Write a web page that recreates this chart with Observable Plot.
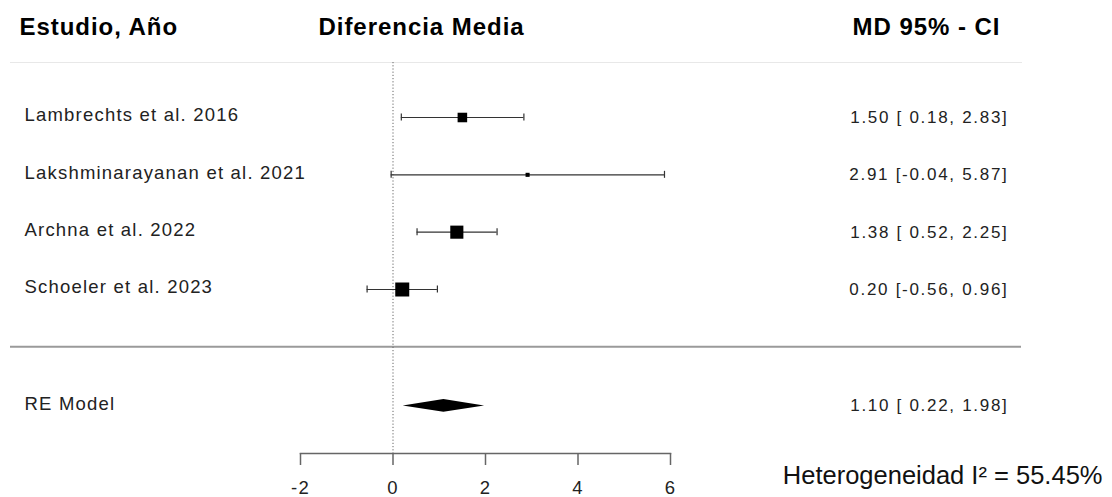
<!DOCTYPE html>
<html><head><meta charset="utf-8">
<script src="https://cdn.jsdelivr.net/npm/d3@7"></script>
<script src="https://cdn.jsdelivr.net/npm/@observablehq/plot@0.6"></script>
<style>
html,body{margin:0;padding:0;background:#fff;}
#chart svg text{letter-spacing:0.065em;}
</style></head><body><div id="chart"></div>
<script>
// ---- data ----
const studies = ["Lambrechts et al. 2016", "Lakshminarayanan et al. 2021", "Archna et al. 2022", "Schoeler et al. 2023"];
const md = [1.50, 2.91, 1.38, 0.20];
const ciLower = [0.18, -0.04, 0.52, -0.56];
const ciUpper = [2.83, 5.87, 2.25, 0.96];
const weights = [23.4, 7.5, 33.7, 36.3]; // estimated study weights (%)
const reLabel = "RE Model";
const reValues = [1.10, 0.22, 1.98]; // estimate, lower, upper
const i2 = 55.45;
const xTicks = [-2, 0, 2, 4, 6];
const headers = ["Estudio, Año", "Diferencia Media", "MD 95% - CI"];

// ---- derived tables ----
const rows = studies.map((_, i) => studies.length - i);
const table = studies.map((s, i) => ({study: s, md: md[i], lower: ciLower[i], upper: ciUpper[i], weight: weights[i], row: rows[i]}));
const reRow = -1.03;
const re = {label: reLabel, md: reValues[0], lower: reValues[1], upper: reValues[2], row: reRow};
const fmtLower = v => (v < 0 ? "" : " ") + v.toFixed(2);
const ciText = d => `${d.md.toFixed(2)} [${fmtLower(d.lower)}, ${d.upper.toFixed(2)}]`;
const dh = 0.11;
const diamond = [
  {x: re.lower, y1: reRow, y2: reRow},
  {x: re.md, y1: reRow - dh, y2: reRow + dh},
  {x: re.upper, y1: reRow, y2: reRow}
];

const font = "'Liberation Sans', Arial, Helvetica, sans-serif";

const chart = Plot.plot({
  width: 1112,
  height: 497,
  marginLeft: 300,
  marginRight: 442,
  marginTop: 62,
  marginBottom: 44,
  x: {domain: [-2, 6], label: null, axis: null},
  y: {domain: [1, 4], range: [289, 117], axis: null},
  r: {type: "linear", domain: d3.extent(weights), range: [2.3, 7.9]},
  style: {fontFamily: font, background: "#fff", color: "#222", overflow: "visible"},
  marks: [
    // top light line
    Plot.frame({anchor: "top", stroke: "#e8e8e8", strokeWidth: 1, insetLeft: -290, insetRight: -351}),
    // separator line
    Plot.ruleY([0], {stroke: "#9a9a9a", strokeWidth: 2, insetLeft: -290, insetRight: -351}),
    // zero reference line
    Plot.ruleX([0], {stroke: "#666", strokeWidth: 1, strokeDasharray: "1.2,2"}),
    // axis line
    Plot.frame({anchor: "bottom", stroke: "#666", strokeWidth: 1.5}),
    Plot.axisX(xTicks, {anchor: "bottom", tickSize: 12, tickPadding: 15, tickFormat: d => String(d), fontSize: 18.5, stroke: "#666", strokeWidth: 1.5, fill: "#222", label: null}),
    // CI lines and caps
    Plot.ruleY(table, {y: "row", x1: "lower", x2: "upper", stroke: "#333", strokeWidth: 1.2}),
    Plot.ruleX(table, {x: "lower", y1: "row", y2: "row", insetTop: -3.5, insetBottom: -3.5, stroke: "#333", strokeWidth: 1.2}),
    Plot.ruleX(table, {x: "upper", y1: "row", y2: "row", insetTop: -3.5, insetBottom: -3.5, stroke: "#333", strokeWidth: 1.2}),
    // weighted squares
    Plot.dot(table, {x: "md", y: "row", r: "weight", symbol: "square", fill: "#000"}),
    // RE diamond
    Plot.areaY(diamond, {x: "x", y1: "y1", y2: "y2", fill: "#000", curve: "linear"}),
    // study labels
    Plot.text(table, {y: "row", text: "study", frameAnchor: "left", dx: -276, dy: -2, textAnchor: "start", lineAnchor: "middle", fontSize: 18.5, fill: "#222"}),
    Plot.text([re], {y: "row", text: "label", frameAnchor: "left", dx: -276, dy: -2, textAnchor: "start", lineAnchor: "middle", fontSize: 18.5, fill: "#222"}),
    // CI annotations
    Plot.text(table, {y: "row", text: ciText, frameAnchor: "right", dx: 338, textAnchor: "end", lineAnchor: "middle", fontSize: 17, fill: "#222"}),
    Plot.text([re], {y: "row", text: ciText, frameAnchor: "right", dx: 338, textAnchor: "end", lineAnchor: "middle", fontSize: 17, fill: "#222"}),
    // headers
    Plot.text([headers[0]], {frameAnchor: "top-left", dx: -281, dy: -35, textAnchor: "start", lineAnchor: "middle", fontSize: 24, fontWeight: "bold", fill: "#000"}),
    Plot.text([headers[1]], {frameAnchor: "top-left", dx: 18, dy: -35, textAnchor: "start", lineAnchor: "middle", fontSize: 24, fontWeight: "bold", fill: "#000"}),
    Plot.text([headers[2]], {frameAnchor: "top-right", dx: 330, dy: -35, textAnchor: "end", lineAnchor: "middle", fontSize: 24, fontWeight: "bold", fill: "#000"}),
    // heterogeneity
    Plot.text([`Heterogeneidad I² = ${i2.toFixed(2)}%`], {frameAnchor: "bottom-right", dx: 432, dy: 22, textAnchor: "end", lineAnchor: "middle", fontSize: 25.5, fill: "#111"})
  ]
});
document.getElementById("chart").append(chart);
chart.querySelectorAll("text").forEach(t => {
  const s = t.textContent;
  if (s.startsWith("Heterogeneidad")) t.style.letterSpacing = "0";
  else if (/^\d\.\d\d \[/.test(s)) t.style.letterSpacing = "0.1em";
  else if (headers.includes(s)) t.style.letterSpacing = "0.04em";
});
</script></body></html>
